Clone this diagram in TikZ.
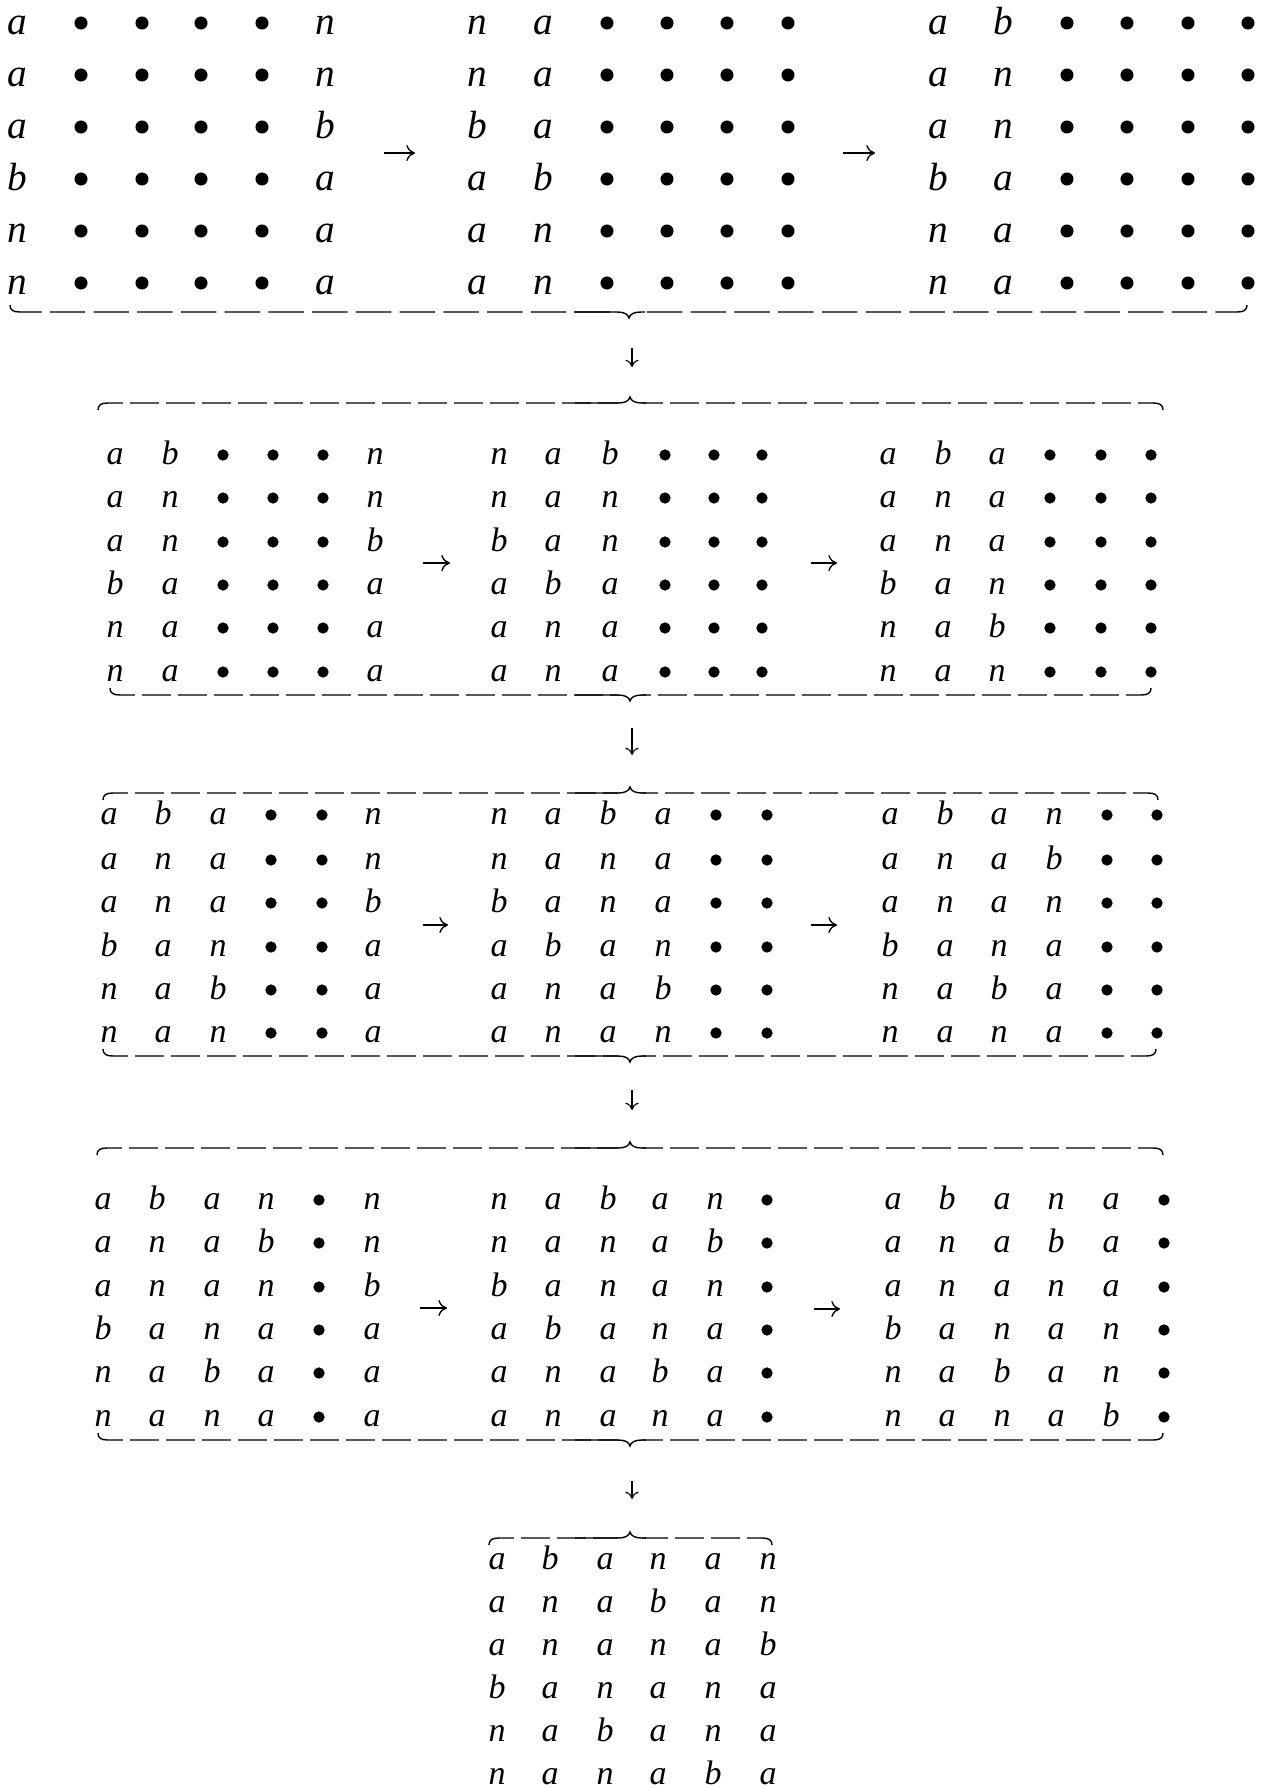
\documentclass[tikz,border=0pt]{standalone}
\usepackage{fontspec}
\setmainfont{Liberation Serif}
\usetikzlibrary{arrows.meta}
\tikzset{
  letA/.style={inner sep=0pt, anchor=base, font=\fontsize{29.5}{34}\selectfont\itshape},
  letB/.style={inner sep=0pt, anchor=base, font=\fontsize{25.5}{30}\selectfont\itshape},
  dotA/.style={circle, fill=black, inner sep=0pt, minimum size=9.8pt},
  dotB/.style={circle, fill=black, inner sep=0pt, minimum size=8.5pt},
  bracepath/.style={line width=1.05pt, line cap=butt},
  bdashA/.style={dash pattern=on 26.6pt off 6.2pt},
  bdashB/.style={dash pattern=on 21.7pt off 5.3pt},
  arrowR/.style={line width=1pt, -{Computer Modern Rightarrow[length=6.5pt,width=12pt]}},
  arrowD/.style={line width=0.85pt, -{Computer Modern Rightarrow[length=5.5pt,width=10pt]}},
}
% #1 prefix, #2 x list, #3 y list, #4 baseline offset, #5 style suffix, #6 rows
\newcommand\drawgrid[6]{%
  \foreach \rw [count=\ri] in {#6} {
    \foreach \ch [count=\ci] in \rw {
      \pgfmathsetmacro\xx{{#2}[\ci-1]}
      \pgfmathsetmacro\yy{{#3}[\ri-1]}
      \if\ch o
        \node[dot#5] (#1-\ri-\ci) at (\xx,\yy) {};
      \else
        \node[let#5] (#1-\ri-\ci) at (\xx,\yy+#4) {\ch};
      \fi
    }
  }
}
% #1 xl, #2 xr, #3 xc, #4 y, #5 dir (+1 under, -1 over), #6 dash style
\newcommand\mybrace[6]{%
  \draw[bracepath, #6] (#1,{#4-(#5)*7}) .. controls (#1,{#4-(#5)*2}) and ({#1+3},#4) .. ({#1+10},#4) -- ({#3-12},#4);
  \draw[bracepath, #6] (#2,{#4-(#5)*7}) .. controls (#2,{#4-(#5)*2}) and ({#2-3},#4) .. ({#2-10},#4) -- ({#3+12},#4);
  \draw[bracepath] ({#3-55},#4) -- ({#3-12},#4) .. controls ({#3-5},#4) and ({#3-1},{#4+(#5)*2}) .. (#3,{#4+(#5)*6})
     .. controls ({#3+1},{#4+(#5)*2}) and ({#3+5},#4) .. ({#3+12},#4) -- ({#3+16},#4);
}
\begin{document}
\begin{tikzpicture}[x=0.75pt, y=-0.75pt]
\path[fill=white] (0,0) rectangle (1262,1789);
\useasboundingbox (0,0) rectangle (1262,1789);

% ---------- Block 1 ----------
\def\ysA{23,75,127,179,231,283}
\drawgrid{bag}{17,81,142,201,262,325}{\ysA}{11.5}{A}{{a,o,o,o,o,n},{a,o,o,o,o,n},{a,o,o,o,o,b},{b,o,o,o,o,a},{n,o,o,o,o,a},{n,o,o,o,o,a}}
\drawgrid{bbg}{477,543,607,667,727,788}{\ysA}{11.5}{A}{{n,a,o,o,o,o},{n,a,o,o,o,o},{b,a,o,o,o,o},{a,b,o,o,o,o},{a,n,o,o,o,o},{a,n,o,o,o,o}}
\drawgrid{bcg}{938,1003,1067,1127,1188,1248}{\ysA}{11.5}{A}{{a,b,o,o,o,o},{a,n,o,o,o,o},{a,n,o,o,o,o},{b,a,o,o,o,o},{n,a,o,o,o,o},{n,a,o,o,o,o}}
\coordinate (r1s) at (384,153); \coordinate (r1e) at (415,153);
\coordinate (r2s) at (843,153); \coordinate (r2e) at (875,153);
\draw[arrowR] (r1s) -- (r1e);
\draw[arrowR] (r2s) -- (r2e);
\mybrace{10}{1247}{629}{312}{1}{bdashA}
\coordinate (d1s) at (632,348); \coordinate (d1e) at (632,367);
\draw[arrowD] (d1s) -- (d1e);

% ---------- Block 2 ----------
\mybrace{98}{1163}{630}{403}{-1}{bdashB}
\def\ysB{455,498,542,585,628,672}
\drawgrid{cag}{115,170,223,273,323,375}{\ysB}{9}{B}{{a,b,o,o,o,n},{a,n,o,o,o,n},{a,n,o,o,o,b},{b,a,o,o,o,a},{n,a,o,o,o,a},{n,a,o,o,o,a}}
\drawgrid{cbg}{499,553,610,665,714,762}{\ysB}{9}{B}{{n,a,b,o,o,o},{n,a,n,o,o,o},{b,a,n,o,o,o},{a,b,a,o,o,o},{a,n,a,o,o,o},{a,n,a,o,o,o}}
\drawgrid{ccg}{888,943,997,1050,1101,1151}{\ysB}{9}{B}{{a,b,a,o,o,o},{a,n,a,o,o,o},{a,n,a,o,o,o},{b,a,n,o,o,o},{n,a,b,o,o,o},{n,a,n,o,o,o}}
\coordinate (r3s) at (423,563); \coordinate (r3e) at (450,563);
\coordinate (r4s) at (811,563); \coordinate (r4e) at (837,563);
\draw[arrowR] (r3s) -- (r3e);
\draw[arrowR] (r4s) -- (r4e);
\mybrace{110}{1151}{630}{695}{1}{bdashB}
\coordinate (d2s) at (632,728); \coordinate (d2e) at (632,755);
\draw[arrowD] (d2s) -- (d2e);

% ---------- Block 3 ----------
\mybrace{103}{1158}{630}{793}{-1}{bdashB}
\def\ysC{815,860,903,947,990,1033}
\drawgrid{dag}{109,163,218,271,322,373}{\ysC}{9}{B}{{a,b,a,o,o,n},{a,n,a,o,o,n},{a,n,a,o,o,b},{b,a,n,o,o,a},{n,a,b,o,o,a},{n,a,n,o,o,a}}
\drawgrid{dbg}{499,553,608,663,716,767}{\ysC}{9}{B}{{n,a,b,a,o,o},{n,a,n,a,o,o},{b,a,n,a,o,o},{a,b,a,n,o,o},{a,n,a,b,o,o},{a,n,a,n,o,o}}
\drawgrid{dcg}{890,945,999,1054,1107,1157}{\ysC}{9}{B}{{a,b,a,n,o,o},{a,n,a,b,o,o},{a,n,a,n,o,o},{b,a,n,a,o,o},{n,a,b,a,o,o},{n,a,n,a,o,o}}
\coordinate (r5s) at (423,925); \coordinate (r5e) at (448,925);
\coordinate (r6s) at (811,925); \coordinate (r6e) at (837,925);
\draw[arrowR] (r5s) -- (r5e);
\draw[arrowR] (r6s) -- (r6e);
\mybrace{103}{1156}{630}{1056}{1}{bdashB}
\coordinate (d3s) at (632,1090); \coordinate (d3e) at (632,1110);
\draw[arrowD] (d3s) -- (d3e);

% ---------- Block 4 ----------
\mybrace{97}{1163}{630}{1148}{-1}{bdashB}
\def\ysD{1200,1243,1287,1330,1373,1417}
\drawgrid{eag}{103,157,212,266,319,372}{\ysD}{9}{B}{{a,b,a,n,o,n},{a,n,a,b,o,n},{a,n,a,n,o,b},{b,a,n,a,o,a},{n,a,b,a,o,a},{n,a,n,a,o,a}}
\drawgrid{ebg}{499,553,608,660,715,767}{\ysD}{9}{B}{{n,a,b,a,n,o},{n,a,n,a,b,o},{b,a,n,a,n,o},{a,b,a,n,a,o},{a,n,a,b,a,o},{a,n,a,n,a,o}}
\drawgrid{ecg}{893,947,1002,1056,1111,1164}{\ysD}{9}{B}{{a,b,a,n,a,o},{a,n,a,b,a,o},{a,n,a,n,a,o},{b,a,n,a,n,o},{n,a,b,a,n,o},{n,a,n,a,b,o}}
\coordinate (r7s) at (420,1308); \coordinate (r7e) at (447,1308);
\coordinate (r8s) at (814,1309); \coordinate (r8e) at (840,1309);
\draw[arrowR] (r7s) -- (r7e);
\draw[arrowR] (r8s) -- (r8e);
\mybrace{98}{1163}{630}{1440}{1}{bdashB}
\coordinate (d4s) at (632,1481); \coordinate (d4e) at (632,1499);
\draw[arrowD] (d4s) -- (d4e);

% ---------- Block 5 ----------
\mybrace{489}{772}{630}{1538}{-1}{bdashB}
\drawgrid{fg}{497,550,605,658,713,768}{1562,1605,1648,1691,1734,1777}{7}{B}{{a,b,a,n,a,n},{a,n,a,b,a,n},{a,n,a,n,a,b},{b,a,n,a,n,a},{n,a,b,a,n,a},{n,a,n,a,b,a}}
\end{tikzpicture}
\end{document}
